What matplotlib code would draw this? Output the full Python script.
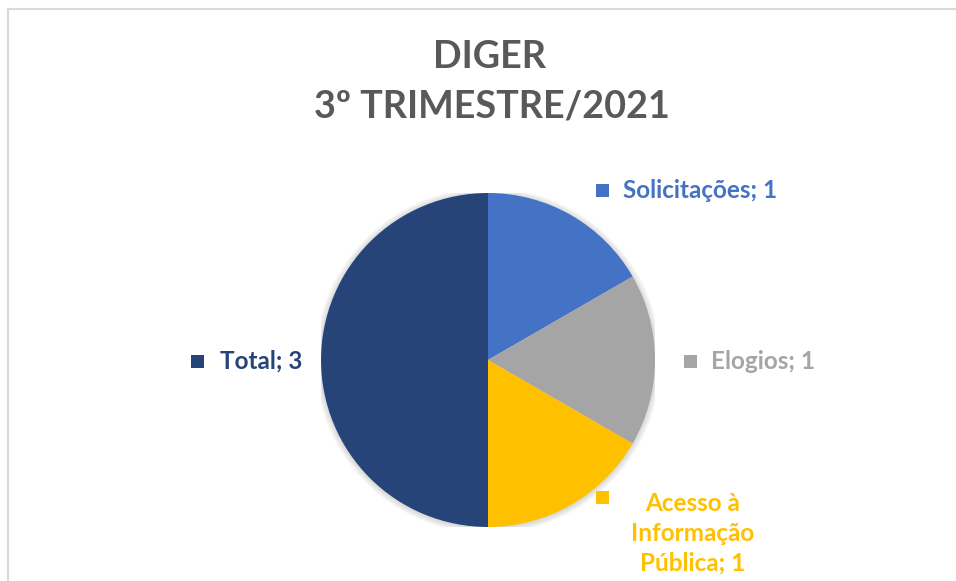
import matplotlib
matplotlib.use("Agg")
import matplotlib.pyplot as plt
from matplotlib.patches import Rectangle, Circle

categories = ["Solicitações", "Elogios", "Acesso à\nInformação\nPública", "Total"]
values = [1, 1, 1, 3]
colors = ["#4472C4", "#A5A5A5", "#FFC000", "#264478"]
title_lines = ["DIGER", "3º TRIMESTRE/2021"]

W, H = 956, 581
fig = plt.figure(figsize=(W / 100, H / 100), dpi=100)
fig.patch.set_facecolor("white")

# chart border (extends beyond the image at right/bottom)
fig.add_artist(Rectangle((7.5 / W, -0.05), 1.2, (H - 8.5) / H + 0.05,
                         transform=fig.transFigure, fill=False,
                         edgecolor="#D9D9D9", linewidth=1.5))

FONT = ["Lato", "DejaVu Sans"]

fig.text(490 / W, 1 - 57 / H, title_lines[0], ha="center", va="center",
         fontsize=27.2, fontweight="bold", color="#595959", family=FONT)
fig.text(492 / W, 1 - 107 / H, title_lines[1], ha="center", va="center",
         fontsize=27.2, fontweight="bold", color="#595959", family=FONT)

cx, cy, r = 488, 360, 167
ax = fig.add_axes([(cx - r) / W, (H - cy - r) / H, 2 * r / W, 2 * r / H])
ax.set_aspect("equal")
ax.axis("off")

# soft shadow under the pie
for k in range(6):
    ax.add_patch(Circle((0, -0.004), 1 + 0.006 * (k + 1), facecolor="black",
                        edgecolor="none", alpha=0.025, zorder=0))

ax.pie(values, colors=colors, startangle=90, counterclock=False, radius=1,
       wedgeprops=dict(linewidth=0, zorder=1), frame=False)
ax.set_xlim(-1, 1)
ax.set_ylim(-1, 1)

# label positions in pie-radius units (marker centre x, y, text anchor x)
label_pos = [
    (0.683, 1.015, 0.808, "left"),
    (1.21, -0.006, 1.335, "left"),
    (0.683, -0.826, 1.228, "center"),
    (-1.737, -0.006, -1.605, "left"),
]
msize = 13 / r
for (mx, my, tx, ha), cat, val, col in zip(label_pos, categories, values, colors):
    ax.add_patch(Rectangle((mx - msize / 2, my - msize / 2), msize, msize,
                           facecolor=col, edgecolor="none", clip_on=False))
    if ha == "center":
        ax.text(tx, -1.036, f"{cat}; {val}", ha="center", va="center",
                fontsize=17.5, fontweight="bold", color=col, family=FONT,
                linespacing=1.35, clip_on=False)
    else:
        ax.text(tx, my, f"{cat}; {val}", ha="left", va="center",
                fontsize=17.5, fontweight="bold", color=col, family=FONT,
                clip_on=False)

fig.savefig("out.png", dpi=100)
